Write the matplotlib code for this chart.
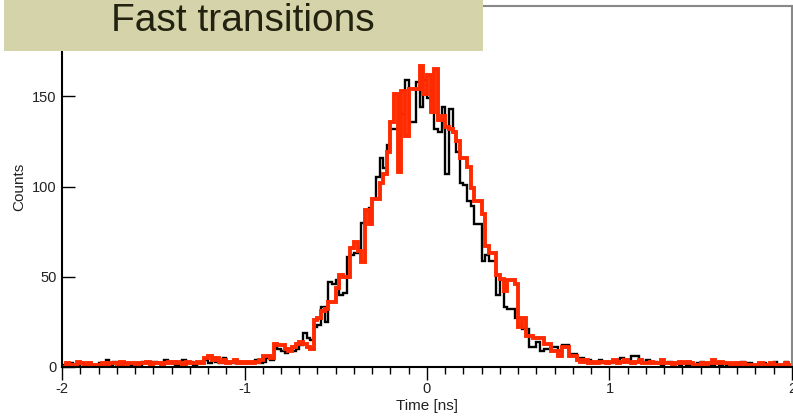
import numpy as np
import matplotlib.pyplot as plt
from matplotlib.patches import Rectangle

plt.rcParams['font.family'] = ['Liberation Sans', 'DejaVu Sans']

# 200 bins of 0.02 ns between -2 and 2
edges = np.linspace(-2, 2, 201)

black_counts = [
    1, 0, 2, 1, 1, 0, 1, 2, 1, 0,
    2, 1, 4, 1, 3, 1, 1, 2, 0, 1,
    2, 1, 3, 2, 1, 3, 2, 1, 4, 2,
    3, 1, 2, 4, 2, 3, 1, 2, 3, 4,
    2, 4, 3, 2, 5, 3, 2, 4, 3, 2,
    3, 2, 3, 4, 2, 3, 5, 4, 11, 10,
    9, 8, 10, 9, 10, 12, 19, 16, 15, 22,
    23, 33, 25, 47, 46, 48, 40, 41, 61, 62,
    63, 66, 80, 87, 88, 93, 105, 116, 110, 123,
    132, 132, 128, 140, 159, 136, 136, 158, 144, 159,
    149, 143, 132, 130, 144, 107, 143, 130, 119, 102,
    101, 92, 89, 79, 79, 59, 62, 59, 59, 40,
    48, 33, 32, 32, 27, 27, 21, 21, 11, 11,
    14, 9, 10, 10, 11, 11, 9, 12, 12, 7,
    7, 4, 5, 3, 4, 2, 3, 4, 2, 3,
    2, 3, 4, 5, 3, 4, 6, 6, 4, 3,
    4, 2, 3, 2, 1, 2, 3, 2, 2, 1,
    2, 1, 2, 1, 2, 3, 2, 1, 1, 2,
    1, 2, 1, 0, 1, 2, 3, 1, 2, 1,
    1, 0, 2, 1, 1, 3, 1, 0, 3, 1,
]

red_counts = [
    0, 2, 1, 1, 3, 2, 1, 2, 1, 1,
    1, 2, 1, 2, 2, 1, 3, 1, 2, 2,
    1, 2, 2, 3, 1, 2, 2, 1, 2, 3,
    2, 3, 2, 1, 3, 2, 2, 3, 2, 5,
    6, 4, 5, 3, 4, 2, 3, 4, 2, 3,
    2, 3, 2, 3, 4, 6, 6, 5, 13, 12,
    12, 10, 9, 11, 13, 14, 13, 11, 10, 26,
    27, 31, 32, 36, 36, 44, 51, 50, 50, 66,
    69, 64, 58, 87, 79, 93, 93, 102, 107, 119,
    136, 151, 108, 153, 128, 154, 154, 154, 167, 151,
    162, 141, 165, 137, 139, 133, 132, 130, 125, 116,
    116, 111, 99, 92, 92, 85, 67, 63, 63, 51,
    49, 42, 48, 48, 46, 22, 27, 17, 17, 16,
    16, 16, 13, 13, 9, 9, 6, 11, 11, 6,
    6, 4, 3, 4, 2, 3, 2, 3, 3, 2,
    3, 4, 2, 3, 4, 3, 2, 3, 4, 2,
    2, 3, 2, 2, 4, 2, 2, 1, 2, 3,
    2, 3, 2, 1, 1, 2, 1, 2, 4, 2,
    3, 2, 2, 1, 2, 1, 2, 1, 1, 1,
    1, 2, 0, 1, 2, 1, 0, 1, 2, 1,
]

x_ticks = [-2, -1, 0, 1, 2]
y_ticks = [0, 50, 100, 150]

fig = plt.figure(figsize=(7.93, 4.2), dpi=100)
ax = fig.add_axes([0.0782, 0.1262, 0.9205, 0.8595])

ax.stairs(black_counts, edges, color='black', lw=1.7)
ax.stairs(red_counts, edges, color='#ff2a00', lw=2.8)

ax.set_xlim(-2, 2)
ax.set_ylim(0, 200)
ax.set_xticks(x_ticks)
ax.set_xticklabels([str(v) for v in x_ticks])
ax.set_xticks(np.arange(-2, 2.01, 0.1), minor=True)
ax.set_yticks(y_ticks)
ax.tick_params(axis='x', which='major', direction='out', length=9, width=1, labelsize=10.5, colors='black', labelcolor='#222222', pad=2)
ax.tick_params(axis='x', which='minor', direction='out', length=5, width=1)
ax.tick_params(axis='y', which='major', direction='in', length=9, width=1, labelsize=10.5, labelcolor='#222222', pad=4)

for s in ['top', 'right']:
    ax.spines[s].set_color('#888888')
    ax.spines[s].set_linewidth(1.5)
for s in ['left', 'bottom']:
    ax.spines[s].set_color('black')
    ax.spines[s].set_linewidth(1.5)

ax.set_xlabel('Time [ns]', fontsize=11, color='#222222', labelpad=2)
ax.set_ylabel('Counts', fontsize=11, color='#222222', labelpad=4)

# title banner
fig.patches.append(Rectangle((4 / 793, 1 - 51 / 420), 479 / 793, 51 / 420,
                             transform=fig.transFigure, facecolor='#d4d3a9',
                             edgecolor='none', zorder=10))
fig.text(243 / 793, 1 - 21 / 420, 'Fast transitions', fontsize=28,
         color='#222211', ha='center', va='center', zorder=11)

fig.savefig('out.png', dpi=100)
